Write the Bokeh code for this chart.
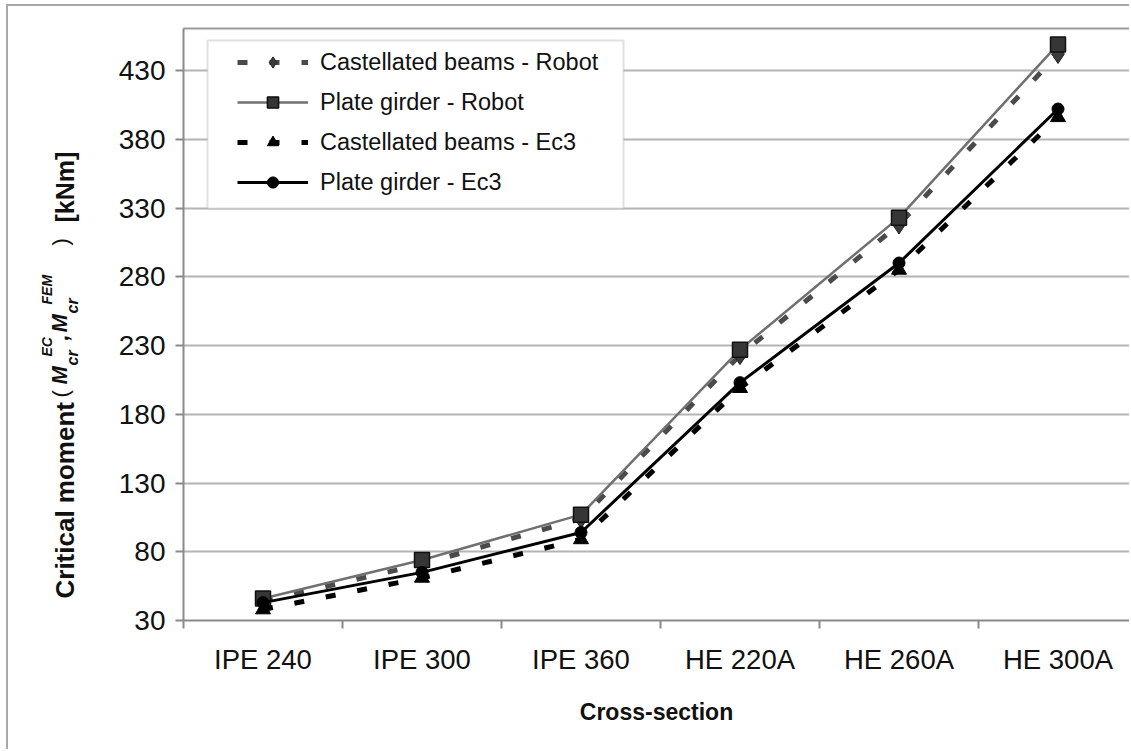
import numpy as np
from bokeh.plotting import figure
from bokeh.models import (Range1d, FixedTicker, LinearAxis, Label, Legend, LegendItem,
                          BoxAnnotation, ColumnDataSource, Grid)
from bokeh.layouts import row
from bokeh.embed import file_html
from bokeh.resources import INLINE

# ---------------- data ----------------
categories = ["IPE 240", "IPE 300", "IPE 360", "HE 220A", "HE 260A", "HE 300A"]
castellated_robot = [44, 71, 104, 223, 318, 442]
plate_robot = [46, 74, 107, 227, 323, 449]
castellated_ec3 = [38, 61, 89, 199, 285, 396]
plate_ec3 = [43, 65, 94, 203, 290, 402]
y_ticks = [30, 80, 130, 180, 230, 280, 330, 380, 430]
series_names = ["Castellated beams - Robot", "Plate girder - Robot",
                "Castellated beams - Ec3", "Plate girder - Ec3"]
x_title = "Cross-section"

# ---------------- layout (image pixel geometry) ----------------
OX, OY = 8, 6
LEFT_W = 100
P_X0 = OX + LEFT_W
FRAME_L, FRAME_R = 183, 1129
FRAME_T, FRAME_B = 28, 620
BOTTOM = 749
CAT_PX = 159
PX_PER_UNIT = 1.375
Y0 = y_ticks[0]

W = FRAME_R - P_X0
H = BOTTOM - OY
x_end = (FRAME_R - FRAME_L) / CAT_PX
y_end = Y0 + (FRAME_B - FRAME_T) / PX_PER_UNIT

FONT = "Liberation Sans"
GRAY = "#9a9a9a"
AX = "#8a8a8a"

p = figure(width=W, height=H, output_backend="svg", toolbar_location=None,
           x_range=Range1d(0, x_end), y_range=Range1d(Y0, y_end),
           min_border_left=FRAME_L - P_X0, min_border_right=0,
           min_border_top=FRAME_T - OY, min_border_bottom=BOTTOM - FRAME_B,
           x_axis_type=None, y_axis_type=None)
p.outline_line_color = None
p.background_fill_color = "white"
p.border_fill_color = "white"

xs = [i + 0.5 for i in range(len(categories))]
src = ColumnDataSource(dict(x=xs, cr=castellated_robot, pr=plate_robot,
                            ce=castellated_ec3, pe=plate_ec3))

yaxis = LinearAxis(ticker=FixedTicker(ticks=y_ticks))
yaxis.axis_line_color = AX
yaxis.axis_line_width = 2
yaxis.major_tick_line_color = AX
yaxis.major_tick_line_width = 2
yaxis.major_tick_out = 8
yaxis.major_tick_in = 0
yaxis.minor_tick_line_color = None
yaxis.major_label_text_font = FONT
yaxis.major_label_text_font_size = "28px"
yaxis.major_label_text_color = "#111111"
yaxis.major_label_standoff = 10
p.add_layout(yaxis, "left")

xaxis = LinearAxis(ticker=FixedTicker(ticks=xs, minor_ticks=list(range(len(categories) + 1))))
xaxis.major_label_overrides = {x: c for x, c in zip(xs, categories)}
xaxis.axis_line_color = AX
xaxis.axis_line_width = 2
xaxis.major_tick_line_color = None
xaxis.major_tick_out = 0
xaxis.minor_tick_line_color = AX
xaxis.minor_tick_line_width = 2
xaxis.minor_tick_out = 8
xaxis.minor_tick_in = 0
xaxis.major_label_text_font = FONT
xaxis.major_label_text_font_size = "27.5px"
xaxis.major_label_text_color = "#111111"
xaxis.major_label_standoff = 15
xaxis.axis_label = x_title
xaxis.axis_label_text_font = FONT
xaxis.axis_label_text_font_style = "bold"
xaxis.axis_label_text_font_size = "23px"
xaxis.axis_label_text_color = "#111111"
xaxis.axis_label_standoff = 21
p.add_layout(xaxis, "below")

top = LinearAxis(ticker=FixedTicker(ticks=[]))
top.axis_line_color = GRAY
top.axis_line_width = 2
top.major_tick_line_color = None
top.minor_tick_line_color = None
top.major_label_text_font_size = "0px"
p.add_layout(top, "above")

p.add_layout(Grid(dimension=1, ticker=yaxis.ticker, grid_line_color="#b4b4b4", grid_line_width=2))

l1 = p.line("x", "cr", source=src, line_color="#4a4a4a", line_width=5, line_dash="10 22")
m1 = p.scatter("x", "cr", source=src, marker="diamond", size=19,
               fill_color="#3a3a3a", line_color="#222222")
l2 = p.line("x", "pr", source=src, line_color="#707070", line_width=2.5)
m2 = p.scatter("x", "pr", source=src, marker="square", size=15,
               fill_color="#363636", line_color="#111111", line_width=1.5)
l3 = p.line("x", "ce", source=src, line_color="#000000", line_width=5, line_dash="10 22")
m3 = p.scatter("x", "ce", source=src, marker="triangle", size=15,
               fill_color="#000000", line_color="#000000")
l4 = p.line("x", "pe", source=src, line_color="#000000", line_width=3)
m4 = p.scatter("x", "pe", source=src, marker="circle", size=12,
               fill_color="#000000", line_color="#000000")


def dx(ix):
    return (ix - FRAME_L) / CAT_PX


def dy(iy):
    return Y0 + (FRAME_B - iy) / PX_PER_UNIT


box = BoxAnnotation(left=dx(207), right=dx(623), top=dy(40), bottom=dy(208),
                    fill_color="white", fill_alpha=1.0, line_color="#999999", line_width=2)
p.add_layout(box)

legend = Legend(items=[LegendItem(label=series_names[0], renderers=[l1, m1]),
                       LegendItem(label=series_names[1], renderers=[l2, m2]),
                       LegendItem(label=series_names[2], renderers=[l3, m3]),
                       LegendItem(label=series_names[3], renderers=[l4, m4])],
                location=(237 - FRAME_L, FRAME_B - 196))
legend.padding = 0
legend.margin = 0
legend.spacing = 12
legend.glyph_width = 71
legend.glyph_height = 28
legend.label_height = 28
legend.label_standoff = 12
legend.label_text_font = FONT
legend.label_text_font_size = "23.5px"
legend.label_text_color = "#111111"
legend.border_line_color = None
legend.background_fill_alpha = 0
p.add_layout(legend)

# ---------------- y-title strip ----------------
# in a row, Bokeh aligns this strip's frame with the main frame (y FRAME_T..FRAME_B)
yt = figure(width=LEFT_W, height=H, output_backend="svg", toolbar_location=None,
            x_range=Range1d(0, LEFT_W), y_range=Range1d(0, FRAME_B - FRAME_T),
            min_border_left=0, min_border_right=0, min_border_top=0, min_border_bottom=0,
            x_axis_type=None, y_axis_type=None)
yt.outline_line_color = None
yt.grid.visible = False
yt.background_fill_color = "white"
yt.border_fill_color = "white"

# (text, baseline x in page px, start y in page px, font size px, style)
pieces = [
    ("Critical moment", 76, 598, 26, "bold"),
    ("(", 70, 397, 22, "normal"),
    ("M", 69, 384, 22, "bold italic"),
    ("cr", 79, 365, 16, "bold italic"),
    ("EC", 53, 356, 14, "bold italic"),
    (",", 70, 340, 22, "bold italic"),
    ("M", 69, 332, 22, "bold italic"),
    ("cr", 79, 313, 16, "bold italic"),
    ("FEM", 53, 304, 14, "bold italic"),
    (")", 70, 245, 22, "normal"),
    ("[kNm]", 76, 222, 25, "bold"),
]
for txt, bx, by, fs, st in pieces:
    yt.add_layout(Label(x=bx - OX - 0.46 * fs, y=FRAME_B - by, text=txt, angle=np.pi / 2,
                        text_align="left", text_baseline="alphabetic", text_font=FONT,
                        text_font_style=st, text_font_size=f"{fs}px", text_color="#111111"))

layout = row(yt, p, spacing=0,
             styles={"margin-left": "6px", "margin-top": "4px",
                     "border-left": "2px solid #a8a8a8", "border-top": "2px solid #a8a8a8"})

open("out.html", "w").write(file_html(layout, INLINE))
